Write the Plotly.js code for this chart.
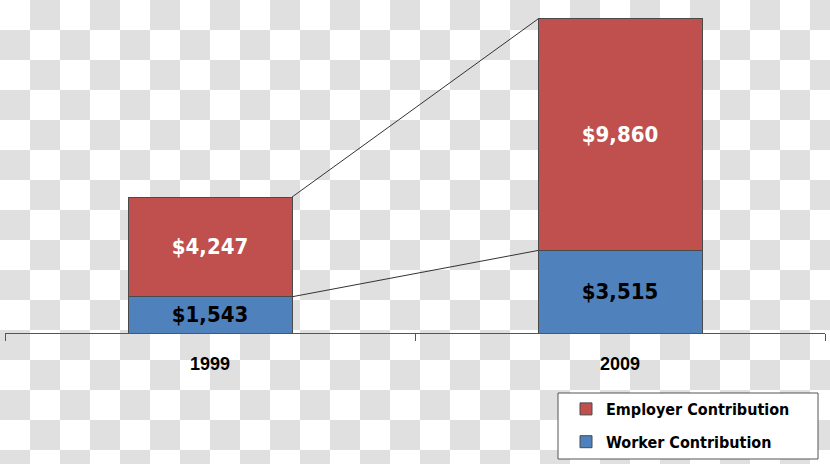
<!DOCTYPE html>
<html>
<head>
<meta charset="utf-8">
<script src="https://cdn.plot.ly/plotly-3.0.1.min.js"></script>
<style>
  html, body { margin: 0; padding: 0; }
  body {
    width: 830px; height: 464px; overflow: hidden;
    background: repeating-conic-gradient(#e0e0e0 0 25%, #ffffff 0 50%) 0 0 / 60px 60px;
  }
  #chart { width: 830px; height: 464px; }
</style>
</head>
<body>
<div id="chart"></div>
<script>
// ---- data ----
const years = ['1999', '2009'];
const yearPos = [0, 1];
const worker = [1543, 3515];
const employer = [4247, 9860];
const seriesNames = ['Worker Contribution', 'Employer Contribution'];

const fmt = v => '$' + v.toLocaleString('en-US');
const totals = worker.map((w, i) => w + employer[i]);

const labelFont = 'DejaVu Sans Condensed, DejaVu Sans, sans-serif';
const barWidth = 0.4;

const traces = [
  {
    type: 'bar', name: seriesNames[0], x: yearPos, y: worker,
    width: barWidth,
    marker: { color: '#4F81BD', line: { color: '#4a4a4a', width: 1 } },
    text: worker.map(fmt), textposition: 'inside', insidetextanchor: 'middle',
    textangle: 0, constraintext: 'none',
    textfont: { family: labelFont, size: 22, color: '#000000', weight: 700 },
    legendgroup: 'w', legendrank: 2, hoverinfo: 'skip'
  },
  {
    type: 'bar', name: seriesNames[1], x: yearPos, y: employer,
    width: barWidth,
    marker: { color: '#C0504D', line: { color: '#4a4a4a', width: 1 } },
    text: employer.map(fmt), textposition: 'inside', insidetextanchor: 'middle',
    textangle: 0, constraintext: 'none',
    textfont: { family: labelFont, size: 22, color: '#ffffff', weight: 700 },
    legendgroup: 'e', legendrank: 1, hoverinfo: 'skip'
  },
  {
    type: 'scatter', mode: 'lines', xaxis: 'x2', yaxis: 'y',
    x: [yearPos[0] + barWidth / 2, yearPos[1] - barWidth / 2],
    y: [totals[0], totals[1]],
    line: { color: '#333333', width: 1 }, showlegend: false, hoverinfo: 'skip'
  },
  {
    type: 'scatter', mode: 'lines', xaxis: 'x2', yaxis: 'y',
    x: [yearPos[0] + barWidth / 2, yearPos[1] - barWidth / 2],
    y: [worker[0], worker[1]],
    line: { color: '#333333', width: 1 }, showlegend: false, hoverinfo: 'skip'
  }
];

const layout = {
  width: 830, height: 464,
  margin: { l: 5, r: 5, t: 0, b: 131 },
  paper_bgcolor: 'rgba(0,0,0,0)',
  plot_bgcolor: 'rgba(0,0,0,0)',
  barmode: 'stack',
  showlegend: true,
  xaxis: {
    range: [-0.5, 1.5], tickvals: yearPos, ticktext: years,
    showline: true, linecolor: '#555555', linewidth: 1,
    ticks: '', showgrid: false, zeroline: false,
    ticklabelstandoff: 14,
    tickfont: { family: 'Liberation Sans, Arial, sans-serif', size: 18, color: '#000000', weight: 700 }
  },
  xaxis2: {
    overlaying: 'x', range: [-0.5, 1.5], tickvals: [-0.5, 0.5, 1.5],
    ticks: 'outside', ticklen: 7, tickcolor: '#555555', tickwidth: 1,
    showticklabels: false, showline: false, showgrid: false, zeroline: false,
    side: 'bottom', anchor: 'y'
  },
  yaxis: { range: [0, 14184], visible: false, showgrid: false, zeroline: false },
  legend: {
    x: (566 - 5) / 820, xanchor: 'left',
    y: (333 - 392) / 333, yanchor: 'top',
    bgcolor: 'rgba(0,0,0,0)', borderwidth: 0,
    traceorder: 'grouped', tracegroupgap: 9,
    font: { family: labelFont, size: 16, color: '#000000', weight: 700 }
  },
  shapes: [{
    type: 'rect', xref: 'paper', yref: 'paper',
    x0: (558 - 5) / 820, x1: (818 - 5) / 820,
    y0: (333 - 459) / 333, y1: (333 - 393) / 333,
    line: { color: '#555555', width: 1 }, fillcolor: '#ffffff', layer: 'below'
  }]
};

Plotly.newPlot('chart', traces, layout, { staticPlot: true, displayModeBar: false });
</script>
</body>
</html>
